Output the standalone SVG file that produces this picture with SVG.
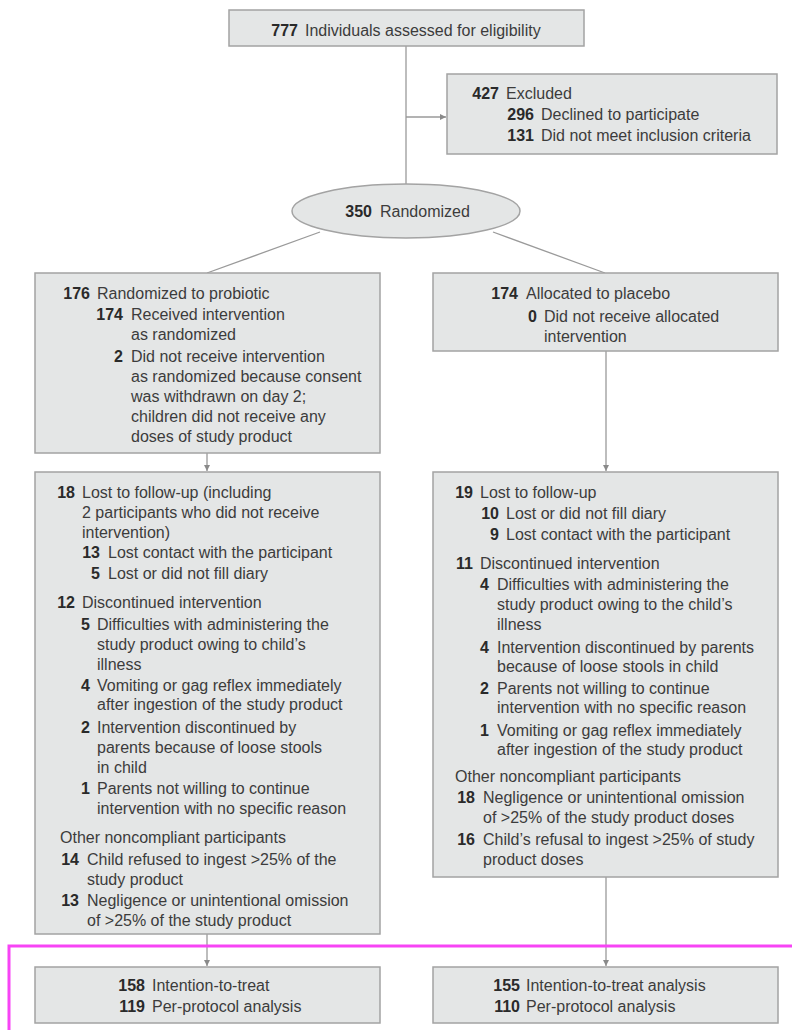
<svg xmlns="http://www.w3.org/2000/svg" width="792" height="1030" viewBox="0 0 792 1030">
<style>
.box{fill:#e4e6e6;stroke:#a3a3a3;stroke-width:1.5}
.t{font-family:"Liberation Sans",Arial,sans-serif;font-size:16px;fill:#3c3c3c}
.n{font-family:"Liberation Sans",Arial,sans-serif;font-size:16px;font-weight:bold;fill:#2a2a2a;text-anchor:end}
.ln{stroke:#9a9a9a;stroke-width:1.3;fill:none}
.hl{fill:none;stroke:#f744f5;stroke-width:3}
</style>
<defs>
<marker id="ah" markerUnits="userSpaceOnUse" markerWidth="7" markerHeight="7" refX="6" refY="3" orient="auto">
<path d="M0,0 L6,3 L0,6 z" fill="#8a8a8a"/>
</marker>
</defs>
<rect width="792" height="1030" fill="#ffffff"/>

<g id="connectors">
<line class="ln" x1="406" y1="46" x2="406" y2="185"/>
<line class="ln" x1="406" y1="117" x2="446" y2="117" marker-end="url(#ah)"/>
<line class="ln" x1="320" y1="232" x2="207" y2="273"/>
<line class="ln" x1="493" y1="232" x2="605" y2="273"/>
<line class="ln" x1="207" y1="453" x2="207" y2="471" marker-end="url(#ah)"/>
<line class="ln" x1="606" y1="351" x2="606" y2="471" marker-end="url(#ah)"/>
<line class="ln" x1="207" y1="934" x2="207" y2="966" marker-end="url(#ah)"/>
<line class="ln" x1="606" y1="877" x2="606" y2="966" marker-end="url(#ah)"/>
</g>

<g id="assessed">
<rect class="box" x="229" y="10" width="355" height="36"/>
<text class="n" x="298" y="36">777</text>
<text class="t" x="305" y="36">Individuals assessed for eligibility</text>
</g>

<g id="excluded">
<rect class="box" x="447" y="74" width="330" height="80"/>
<text class="n" x="499" y="99">427</text>
<text class="t" x="506" y="99">Excluded</text>
<text class="n" x="534" y="120">296</text>
<text class="t" x="541" y="120">Declined to participate</text>
<text class="n" x="534" y="141">131</text>
<text class="t" x="541" y="141">Did not meet inclusion criteria</text>
</g>

<g id="randomized">
<ellipse class="box" cx="406" cy="211" rx="114" ry="27"/>
<text class="n" x="372" y="217">350</text>
<text class="t" x="380" y="217">Randomized</text>
</g>

<g id="probiotic">
<rect class="box" x="35" y="273" width="345" height="180"/>
<text class="n" x="90" y="299">176</text>
<text class="t" x="97" y="299">Randomized to probiotic</text>
<text class="n" x="123" y="320">174</text>
<text class="t" x="131" y="320">Received intervention</text>
<text class="t" x="131" y="340">as randomized</text>
<text class="n" x="123" y="362">2</text>
<text class="t" x="131" y="362">Did not receive intervention</text>
<text class="t" x="131" y="382">as randomized because consent</text>
<text class="t" x="131" y="402">was withdrawn on day 2;</text>
<text class="t" x="131" y="422">children did not receive any</text>
<text class="t" x="131" y="442">doses of study product</text>
</g>

<g id="placebo">
<rect class="box" x="433" y="273" width="345" height="78"/>
<text class="n" x="518" y="299">174</text>
<text class="t" x="526" y="299">Allocated to placebo</text>
<text class="n" x="537" y="322">0</text>
<text class="t" x="544" y="322">Did not receive allocated</text>
<text class="t" x="544" y="342">intervention</text>
</g>

<g id="probiotic-followup">
<rect class="box" x="35" y="472" width="345" height="462"/>
<text class="n" x="75" y="498">18</text>
<text class="t" x="82" y="498">Lost to follow-up (including</text>
<text class="t" x="82" y="518">2 participants who did not receive</text>
<text class="t" x="82" y="538">intervention)</text>
<text class="n" x="100" y="558">13</text>
<text class="t" x="108" y="558">Lost contact with the participant</text>
<text class="n" x="100" y="579">5</text>
<text class="t" x="108" y="579">Lost or did not fill diary</text>
<text class="n" x="75" y="608">12</text>
<text class="t" x="82" y="608">Discontinued intervention</text>
<text class="n" x="90" y="630">5</text>
<text class="t" x="97" y="630">Difficulties with administering the</text>
<text class="t" x="97" y="650">study product owing to child’s</text>
<text class="t" x="97" y="670">illness</text>
<text class="n" x="90" y="691">4</text>
<text class="t" x="97" y="691">Vomiting or gag reflex immediately</text>
<text class="t" x="97" y="710">after ingestion of the study product</text>
<text class="n" x="90" y="733">2</text>
<text class="t" x="97" y="733">Intervention discontinued by</text>
<text class="t" x="97" y="753">parents because of loose stools</text>
<text class="t" x="97" y="773">in child</text>
<text class="n" x="90" y="794">1</text>
<text class="t" x="97" y="794">Parents not willing to continue</text>
<text class="t" x="97" y="814">intervention with no specific reason</text>
<text class="t" x="60" y="843">Other noncompliant participants</text>
<text class="n" x="79" y="865">14</text>
<text class="t" x="87" y="865">Child refused to ingest &gt;25% of the</text>
<text class="t" x="87" y="885">study product</text>
<text class="n" x="79" y="906">13</text>
<text class="t" x="87" y="906">Negligence or unintentional omission</text>
<text class="t" x="87" y="926">of &gt;25% of the study product</text>
</g>

<g id="placebo-followup">
<rect class="box" x="433" y="472" width="345" height="405"/>
<text class="n" x="473" y="498">19</text>
<text class="t" x="480" y="498">Lost to follow-up</text>
<text class="n" x="499" y="519">10</text>
<text class="t" x="506" y="519">Lost or did not fill diary</text>
<text class="n" x="499" y="540">9</text>
<text class="t" x="506" y="540">Lost contact with the participant</text>
<text class="n" x="473" y="569">11</text>
<text class="t" x="480" y="569">Discontinued intervention</text>
<text class="n" x="489" y="590">4</text>
<text class="t" x="497" y="590">Difficulties with administering the</text>
<text class="t" x="497" y="610">study product owing to the child’s</text>
<text class="t" x="497" y="630">illness</text>
<text class="n" x="489" y="653">4</text>
<text class="t" x="497" y="653">Intervention discontinued by parents</text>
<text class="t" x="497" y="672">because of loose stools in child</text>
<text class="n" x="489" y="694">2</text>
<text class="t" x="497" y="694">Parents not willing to continue</text>
<text class="t" x="497" y="713">intervention with no specific reason</text>
<text class="n" x="489" y="736">1</text>
<text class="t" x="497" y="736">Vomiting or gag reflex immediately</text>
<text class="t" x="497" y="755">after ingestion of the study product</text>
<text class="t" x="455" y="782">Other noncompliant participants</text>
<text class="n" x="475" y="803">18</text>
<text class="t" x="483" y="803">Negligence or unintentional omission</text>
<text class="t" x="483" y="823">of &gt;25% of the study product doses</text>
<text class="n" x="475" y="845">16</text>
<text class="t" x="483" y="845">Child’s refusal to ingest &gt;25% of study</text>
<text class="t" x="483" y="865">product doses</text>
</g>

<g id="probiotic-analysis">
<rect class="box" x="35" y="967" width="345" height="56"/>
<text class="n" x="145" y="991">158</text>
<text class="t" x="152" y="991">Intention-to-treat</text>
<text class="n" x="145" y="1012">119</text>
<text class="t" x="152" y="1012">Per-protocol analysis</text>
</g>

<g id="placebo-analysis">
<rect class="box" x="433" y="967" width="345" height="56"/>
<text class="n" x="520" y="991">155</text>
<text class="t" x="526" y="991">Intention-to-treat analysis</text>
<text class="n" x="520" y="1012">110</text>
<text class="t" x="526" y="1012">Per-protocol analysis</text>
</g>

<rect class="hl" x="9" y="946" width="800" height="100"/>
</svg>
